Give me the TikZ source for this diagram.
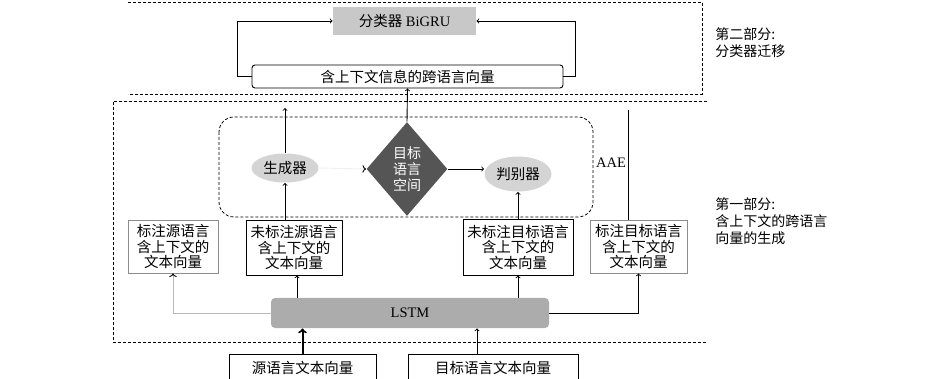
\documentclass[tikz,border=0pt]{standalone}
\usepackage{fontspec}
\setmainfont{Liberation Serif}
\newfontfamily\cjk{Noto Sans CJK SC}
\usepackage{xcolor}
\usetikzlibrary{shapes.geometric, arrows, arrows.meta, positioning}
\definecolor{clsgray}{RGB}{200,200,200}
\definecolor{ellgray}{RGB}{212,212,212}
\definecolor{diamgray}{RGB}{85,85,85}
\definecolor{lstmgray}{RGB}{172,172,172}
\definecolor{linegray}{RGB}{185,185,185}

\begin{document}
\begin{tikzpicture}[x=1pt, y=-1pt, >=to, line width=0.9pt,
    cn/.style={font={\cjk\fontsize{14.5}{15.5}\selectfont}},
    vecbox/.style={draw, cn, align=center, inner sep=0pt, minimum height=54pt},
    frame/.style={dash pattern=on 3pt off 2pt, line width=0.8pt}]
            \clip (0,0) rectangle (945,379);

            % frames of the two parts
            \draw[frame] (128,2) -- (702,2) -- (702,94) -- (128,94);
            \draw[frame] (707,101) -- (113,101) -- (113,342) -- (707,342);
            \draw[frame, rounded corners=15pt] (219,117) rectangle (593,217);

            % part two
            \node[fill=clsgray, minimum width=143pt, minimum height=28pt, inner sep=0pt, font=\fontsize{14.5}{16}\selectfont] (bigru) at (404.5,21) {{\cjk 分类器} BiGRU};
            \node[draw, rounded corners=3pt, cn, minimum width=311pt, minimum height=23pt, inner sep=0pt] (crossvec) at (407.5,76.5) {含上下文信息的跨语言向量};
            \draw[->] (crossvec.west) -- ++(-14.5,0) |- (bigru.west);
            \draw[->] (crossvec.east) -- ++(12,0) |- (bigru.east);

            % adversarial part
            \node[ellipse, fill=ellgray, cn, minimum width=67pt, minimum height=29pt, inner sep=0pt] (gen) at (285,168) {生成器};
            \node[diamond, fill=diamgray, text=white, align=center, inner sep=0pt, minimum width=81pt, minimum height=94pt, font={\cjk\fontsize{14}{16}\selectfont}] (space) at (407,169) {目标\\语言\\空间};
            \node[ellipse, fill=ellgray, cn, minimum width=67pt, minimum height=35pt, inner sep=0pt] (disc) at (518,174) {判别器};
            \node[font=\fontsize{14.5}{16}\selectfont] (aae) at (611,163) {AAE};
            \coordinate (genout) at (285,108);
            \coordinate (aaetop) at (628,110);

            \draw[->] (gen.north) -- (genout);
            \draw[-{To[color=black]}, draw=black!6] (gen.east) -- (space.west);
            \draw[->] (space.east) -- (space.east -| disc.west);
            \draw[->] (space.north) -- (crossvec.south);

            % context vectors
            \node[vecbox, draw=black!45, minimum width=90pt, minimum height=53pt] (srclab) at (173,246.5) {标注源语言\\含上下文的\\文本向量};
            \node[vecbox, minimum width=96pt, minimum height=55pt] (srcunl) at (294,247.5) {未标注源语言\\含上下文的\\文本向量};
            \node[vecbox, minimum width=110pt, minimum height=56pt] (tgtunl) at (518,247) {未标注目标语言\\含上下文的\\文本向量};
            \node[vecbox, draw=black!45, minimum width=97pt, minimum height=53pt] (tgtlab) at (638.5,246.5) {标注目标语言\\含上下文的\\文本向量};
            \draw (aaetop) -- (aaetop |- tgtlab.north);
            \draw[->] (srcunl.north -| gen.south) -- (gen.south);
            \draw[->] (tgtunl.north) -- (disc.south);

            \node[fill=lstmgray, rounded corners=4pt, minimum width=278pt, minimum height=30pt, inner sep=0pt, font=\fontsize{14.5}{16}\selectfont] (lstm) at (410,313) {LSTM};
            \draw[->] ([xshift=3pt]srcunl.south |- lstm.north) -- ([xshift=3pt]srcunl.south);
            \draw[->] (tgtunl.south |- lstm.north) -- (tgtunl.south);
            \draw[-{To[color=black]}, draw=linegray] (lstm.west) -| (srclab.south);
            \draw[->] (lstm.east) -| (tgtlab.south);

            % input vectors
            \node[draw, cn, minimum width=147pt, minimum height=28pt, inner sep=0pt] (srcin) at (302.5,368) {源语言文本向量};
            \node[draw, cn, minimum width=170pt, minimum height=28pt, inner sep=0pt] (tgtin) at (493,368) {目标语言文本向量};
            \draw[->, line width=2pt] (srcin.north) -- (srcin.north |- lstm.south);
            \draw[->] ([xshift=-16pt]tgtin.north) -- ([xshift=-16pt]tgtin.north |- lstm.south);

            % part labels
            \node[anchor=north west, align=left, inner sep=0pt, font={\cjk\fontsize{14}{17}\selectfont}] (part2) at (715,27) {第二部分:\\分类器迁移};
            \node[anchor=north west, align=left, inner sep=0pt, font={\cjk\fontsize{14}{17}\selectfont}] (part1) at (715,197) {第一部分:\\含上下文的跨语言\\向量的生成};
        \end{tikzpicture}
\end{document}
